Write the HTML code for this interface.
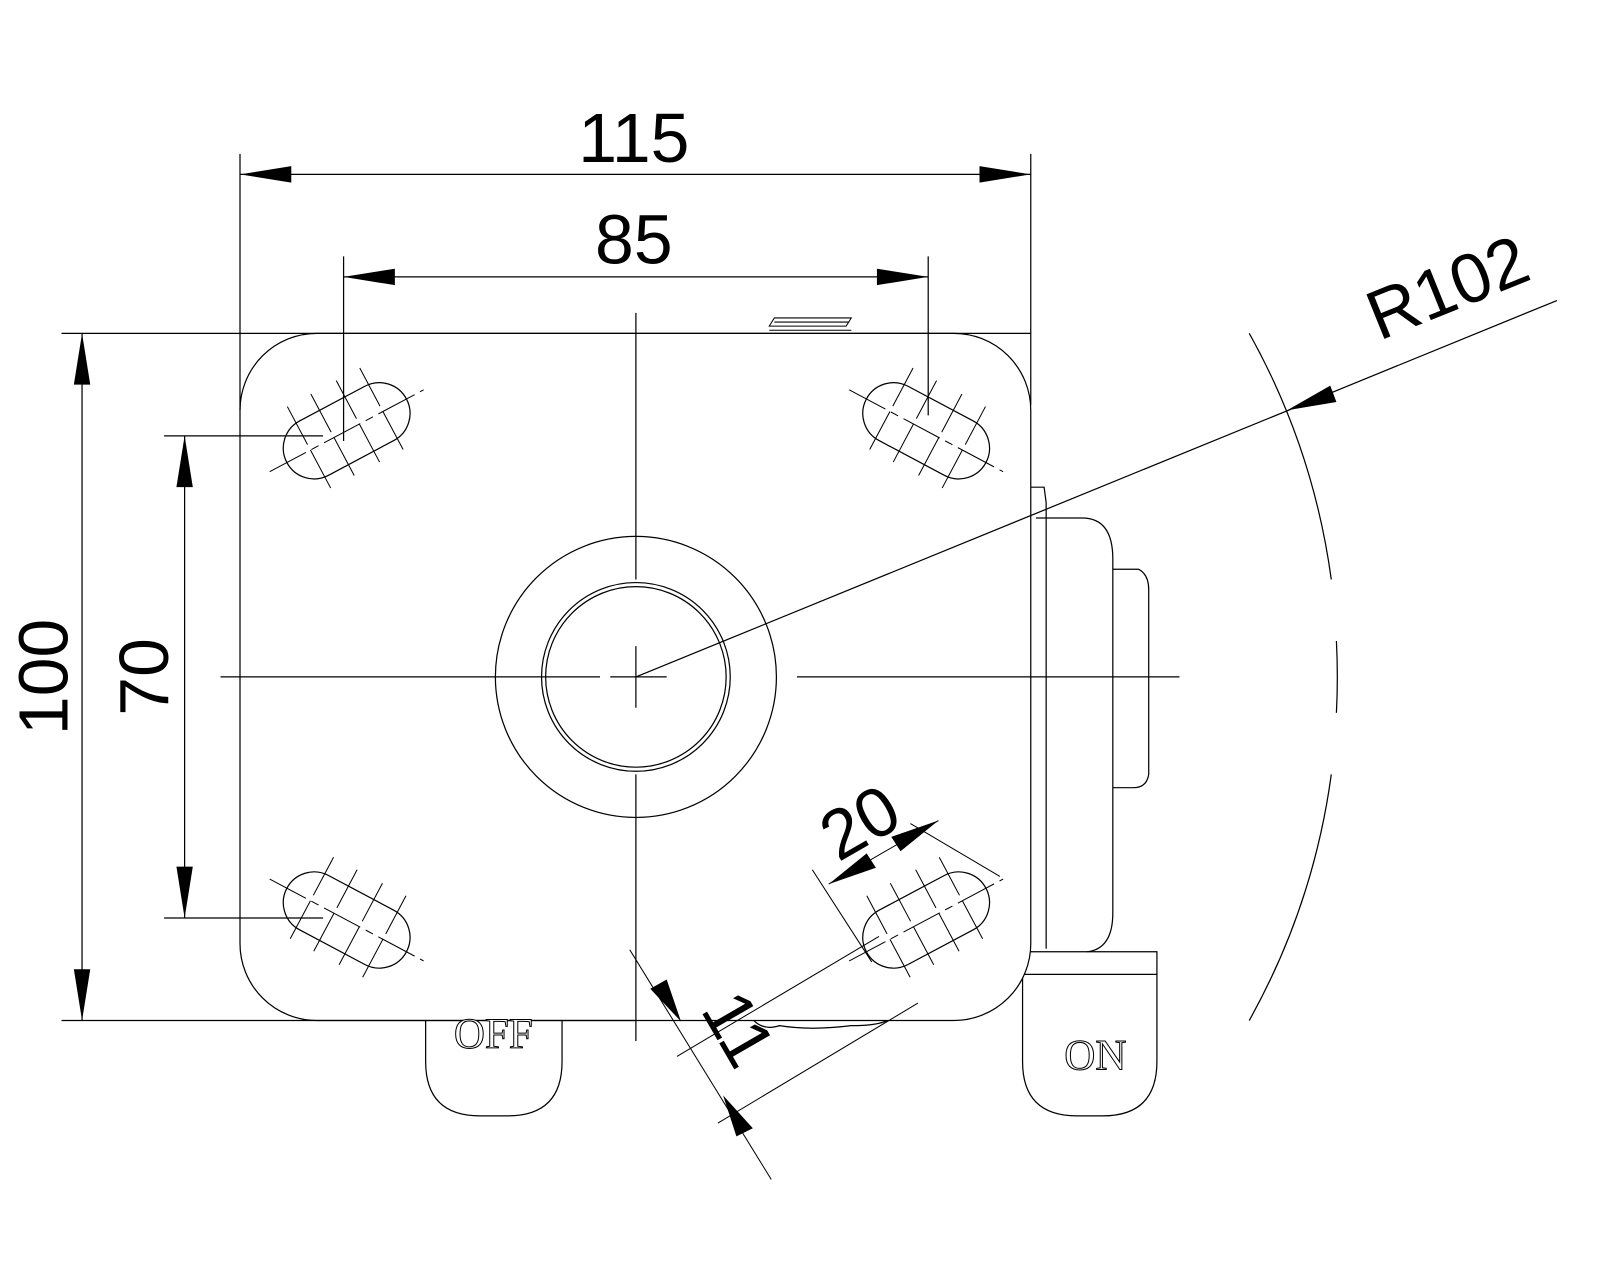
<!DOCTYPE html>
<html><head><meta charset="utf-8"><style>html,body{margin:0;padding:0;background:#fff}svg{display:block}</style></head>
<body>
<svg width="1600" height="1280" viewBox="0 0 1560 1248" xmlns="http://www.w3.org/2000/svg">
<defs>
<g id="slot">
  <rect x="-66" y="-30" width="132" height="60" rx="30" fill="none" stroke="#000" stroke-width="1.2"/>
  <line x1="-85" y1="0" x2="85" y2="0" stroke="#000" stroke-width="1" stroke-dasharray="40 6 8 6"/>
  <line x1="-40" y1="-48" x2="-40" y2="48" stroke="#000" stroke-width="1" stroke-dasharray="42 6 42"/>
  <line x1="-14" y1="-48" x2="-14" y2="48" stroke="#000" stroke-width="1" stroke-dasharray="42 6 42"/>
  <line x1="14" y1="-48" x2="14" y2="48" stroke="#000" stroke-width="1" stroke-dasharray="42 6 42"/>
  <line x1="40" y1="-48" x2="40" y2="48" stroke="#000" stroke-width="1" stroke-dasharray="42 6 42"/>
</g>
</defs>
<g fill="none" stroke="#000" stroke-width="1.2">
  <path d="M1005 475 L1018 475 L1020 490 L1020 925"/>
  <path d="M1010 505 L1055 505 Q1085 505 1085 545 L1085 890 Q1085 925 1060 928"/>
  <path d="M1085 555 L1110 555 Q1120 560 1120 575 L1120 755 Q1118 768 1105 768 L1085 768"/>
  <path d="M1000 928 L1128 928 L1128 1035 Q1128 1088 1075 1088 L1050 1088 Q997 1088 997 1035 L997 950"/>
  <line x1="997" y1="950" x2="1128" y2="950"/>
  <path d="M415 995 L415 1035 Q415 1088 468 1088 L495 1088 Q548 1088 548 1035 L548 995"/>
  <rect x="234" y="325" width="771" height="670" rx="75" fill="#fff"/>
  <circle cx="620" cy="660" r="137"/>
  <circle cx="620" cy="660" r="92"/>
  <circle cx="620" cy="660" r="88"/>
  <path d="M735 995 Q745 1005 760 1000 Q790 1005 830 1000 Q855 1000 865 995"/>
  <path d="M750 318 L755 310 L830 310 L825 318 Z M755 314 L828 314 M750 322 L830 322" stroke-width="1"/>
</g>
<g stroke="#000" stroke-width="1.2" fill="none">
  <line x1="620" y1="305" x2="620" y2="565"/>
  <line x1="620" y1="630" x2="620" y2="690"/>
  <line x1="620" y1="755" x2="620" y2="1015"/>
  <line x1="215" y1="660" x2="585" y2="660"/>
  <line x1="595" y1="660" x2="650" y2="660"/>
  <line x1="777" y1="660" x2="1150" y2="660"/>
  <use href="#slot" transform="translate(338,420) rotate(-28)"/>
  <use href="#slot" transform="translate(903,420) rotate(28)"/>
  <use href="#slot" transform="translate(338,897) rotate(28)"/>
  <use href="#slot" transform="translate(903,897) rotate(-28)"/>
  <line x1="234" y1="150" x2="234" y2="400"/>
  <line x1="1005" y1="150" x2="1005" y2="395"/>
  <line x1="234" y1="170" x2="1005" y2="170"/>
  <line x1="335" y1="250" x2="335" y2="430"/>
  <line x1="905" y1="250" x2="905" y2="405"/>
  <line x1="335" y1="270" x2="905" y2="270"/>
  <line x1="60" y1="325" x2="1005" y2="325"/>
  <line x1="60" y1="995" x2="620" y2="995"/>
  <line x1="80" y1="325" x2="80" y2="995"/>
  <line x1="160" y1="425" x2="315" y2="425"/>
  <line x1="160" y1="895" x2="315" y2="895"/>
  <line x1="180" y1="425" x2="180" y2="895"/>
  <line x1="620" y1="660" x2="1518" y2="293"/>
  <path d="M1218 325 A680 680 0 0 1 1298 565" />
  <path d="M1303 625 A680 680 0 0 1 1303 695" />
  <path d="M1298 755 A680 680 0 0 1 1218 995" />
  <line x1="808" y1="862" x2="915" y2="800" stroke-width="1"/>
  <line x1="792" y1="848" x2="850" y2="938" stroke-width="1"/>
  <line x1="893" y1="796" x2="970" y2="862" stroke-width="1" transform="rotate(-10 930 830)"/>
  <line x1="660" y1="1030" x2="857" y2="913" stroke-width="1"/>
  <line x1="700" y1="1095" x2="895" y2="978" stroke-width="1"/>
  <line x1="614" y1="926" x2="752" y2="1150" stroke-width="1"/>
</g>
<g fill="#000">
  <polygon points="234,170 284,162 284,178"/>
  <polygon points="1005,170 955,162 955,178"/>
  <polygon points="335,270 385,262 385,278"/>
  <polygon points="905,270 855,262 855,278"/>
  <polygon points="80,325 72,375 88,375"/>
  <polygon points="80,995 72,945 88,945"/>
  <polygon points="180,425 172,475 188,475"/>
  <polygon points="180,895 172,845 188,845"/>
  <polygon points="1255,400 1297,376 1303,392"/>
  <polygon points="808,862 845,832 854,846"/>
  <polygon points="915,800 878,830 869,816"/>
  <polygon points="664,996 634,964 650,955"/>
  <polygon points="705,1068 734,1100 718,1108"/>
</g>
<g font-family="Liberation Sans, sans-serif" fill="#000" font-size="68">
  <text x="618" y="158" text-anchor="middle">115</text>
  <text x="618" y="257" text-anchor="middle">85</text>
  <text transform="translate(66,660) rotate(-90)" text-anchor="middle">100</text>
  <text transform="translate(164,660) rotate(-90)" text-anchor="middle">70</text>
  <text transform="translate(1420,302) rotate(-22)" text-anchor="middle">R102</text>
  <text transform="translate(850,822) rotate(-30)" text-anchor="middle">20</text>
  <text transform="translate(700,1015) rotate(60)" text-anchor="middle">11</text>
</g>
<g font-family="Liberation Serif, serif" fill="#fff" stroke="#000" stroke-width="1" font-size="42">
  <text x="1068" y="1043" text-anchor="middle">ON</text>
  <text x="481" y="1022" text-anchor="middle">OFF</text>
</g>
</svg>
</body></html>
